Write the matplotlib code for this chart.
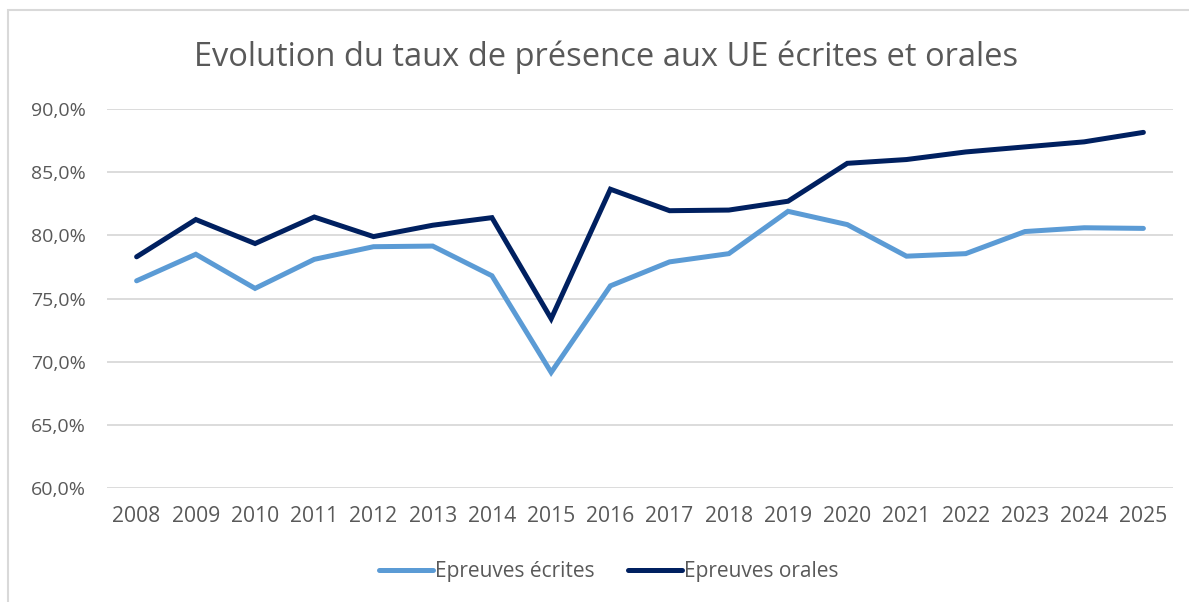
import matplotlib
matplotlib.use("Agg")
import matplotlib.pyplot as plt
from matplotlib.patches import Rectangle
from matplotlib.ticker import FuncFormatter, MultipleLocator

years = [str(y) for y in range(2008, 2026)]
ecrites = [76.4, 78.5, 75.8, 78.1, 79.1, 79.15, 76.8, 69.15, 76.0, 77.9,
           78.55, 81.9, 80.85, 78.35, 78.55, 80.3, 80.6, 80.55]
orales = [78.3, 81.25, 79.35, 81.45, 79.9, 80.8, 81.4, 73.4, 83.65, 81.95,
          82.0, 82.7, 85.7, 86.0, 86.6, 87.0, 87.4, 88.15]

plt.rcParams['font.family'] = ['Open Sans', 'DejaVu Sans']
grey = '#595959'
W, H = 1189, 602

fig = plt.figure(figsize=(W / 100, H / 100), dpi=100)
# chart border (top/left visible, right/bottom cut off in the reference)
fig.add_artist(Rectangle((8 / W, -0.1), 1.2, (H - 10) / H + 0.1,
                         transform=fig.transFigure, fill=False,
                         edgecolor='#D9D9D9', lw=1.5))
ax = fig.add_axes([107 / W, 1 - 488 / H, (1173 - 107) / W, (488 - 109) / H])

x = range(len(years))
ax.plot(x, ecrites, color='#5B9BD5', lw=3.6, solid_capstyle='round',
        solid_joinstyle='miter', label='Epreuves écrites')
ax.plot(x, orales, color='#002060', lw=3.6, solid_capstyle='round',
        solid_joinstyle='miter', label='Epreuves orales')

ax.set_xlim(-0.5, len(years) - 0.5)
ax.set_ylim(60, 90)
ax.set_xticks(list(x))
ax.set_xticklabels(years)
ax.yaxis.set_major_locator(MultipleLocator(5))
ax.yaxis.set_major_formatter(FuncFormatter(lambda v, p: f"{v:.1f}%".replace('.', ',')))
ax.grid(axis='y', color='#D9D9D9', lw=1.3)
ax.set_axisbelow(True)
for s in ax.spines.values():
    s.set_visible(False)
ax.tick_params(length=0, colors=grey)
ax.tick_params(axis='y', labelsize=14, pad=15)
ax.tick_params(axis='x', labelsize=15.2, pad=13)

fig.text(606 / W, 1 - 57 / H, 'Evolution du taux de présence aux UE écrites et orales',
         ha='center', va='center', fontsize=23.5, color=grey)

leg = fig.legend(loc='center', bbox_to_anchor=(609 / W, 1 - 572 / H), ncol=2,
                 frameon=False, fontsize=15, handlelength=2.6, handletextpad=0.1,
                 columnspacing=1.6)
for t in leg.get_texts():
    t.set_color(grey)

fig.savefig('out.png', dpi=100)
